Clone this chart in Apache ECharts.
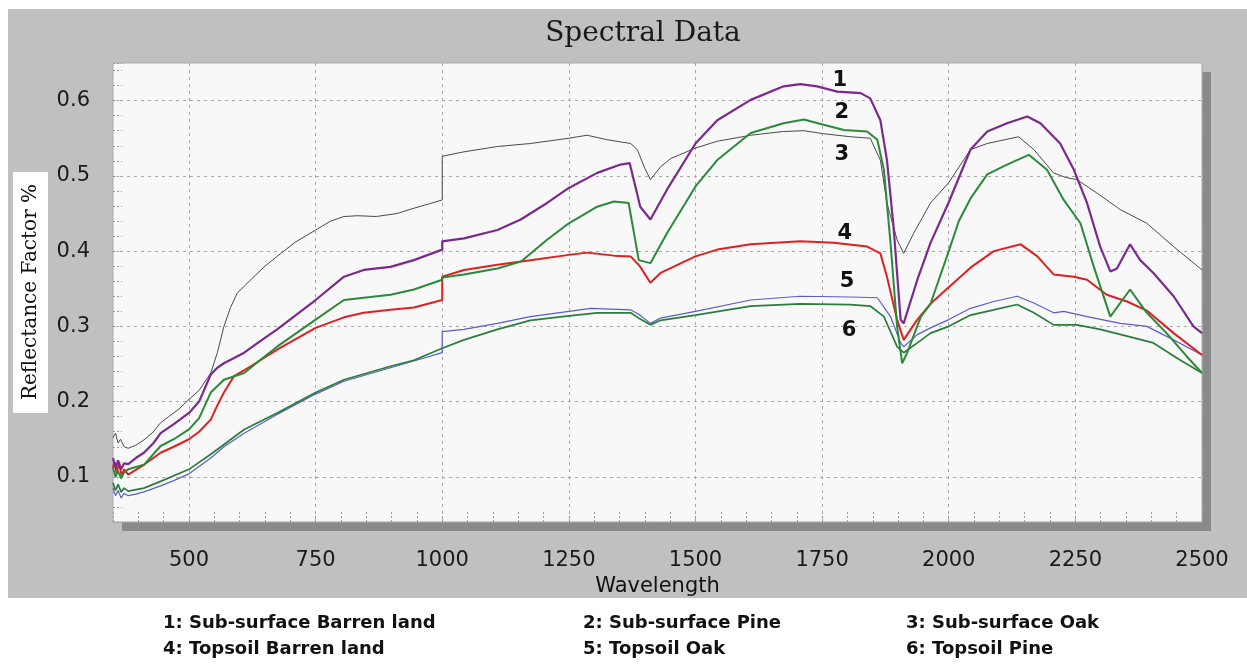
<!DOCTYPE html>
<html><head><meta charset="utf-8">
<script src="https://cdn.jsdelivr.net/npm/echarts@6/dist/echarts.min.js"></script>
<style>html,body{margin:0;padding:0;background:#fff;}#c{width:1247px;height:669px;}</style>
</head><body><div id="c"></div>
<script>
// ---- data (wavelength nm, reflectance) ----
const subBarren = [[350,0.125],[355,0.112],[360,0.122],[366,0.110],[372,0.118],[380,0.117],[395,0.125],[411,0.132],[430,0.145],[444,0.158],[470,0.170],[500,0.185],[520,0.200],[543,0.236],[556,0.245],[569,0.251],[609,0.265],[640,0.280],[674,0.296],[750,0.335],[806,0.366],[845,0.375],[898,0.379],[944,0.388],[1000,0.402],[1000,0.413],[1043,0.417],[1109,0.428],[1155,0.442],[1207,0.464],[1250,0.484],[1306,0.504],[1352,0.515],[1370,0.517],[1391,0.459],[1411,0.442],[1444,0.482],[1500,0.543],[1543,0.574],[1609,0.601],[1674,0.619],[1707,0.622],[1740,0.619],[1780,0.612],[1826,0.610],[1845,0.603],[1865,0.574],[1878,0.521],[1891,0.433],[1905,0.309],[1911,0.304],[1938,0.362],[1964,0.411],[2000,0.465],[2043,0.535],[2076,0.559],[2115,0.570],[2155,0.579],[2181,0.570],[2220,0.543],[2247,0.508],[2273,0.464],[2299,0.406],[2319,0.373],[2332,0.377],[2358,0.409],[2378,0.388],[2404,0.371],[2444,0.340],[2483,0.300],[2500,0.291]];
const subPine = [[350,0.112],[355,0.100],[360,0.108],[366,0.098],[372,0.106],[380,0.110],[411,0.116],[444,0.141],[470,0.150],[500,0.163],[520,0.178],[543,0.212],[569,0.229],[609,0.238],[640,0.255],[674,0.273],[750,0.309],[806,0.335],[845,0.338],[898,0.342],[944,0.349],[1000,0.362],[1000,0.365],[1043,0.369],[1109,0.377],[1155,0.386],[1207,0.415],[1250,0.437],[1306,0.459],[1339,0.466],[1368,0.464],[1388,0.388],[1411,0.384],[1444,0.424],[1500,0.486],[1543,0.521],[1609,0.557],[1674,0.570],[1714,0.575],[1753,0.568],[1793,0.561],[1839,0.559],[1859,0.548],[1872,0.508],[1885,0.411],[1898,0.300],[1908,0.251],[1918,0.265],[1945,0.313],[1964,0.330],[2000,0.400],[2020,0.440],[2043,0.470],[2076,0.502],[2115,0.515],[2158,0.528],[2194,0.508],[2227,0.468],[2260,0.437],[2286,0.380],[2319,0.313],[2358,0.349],[2391,0.318],[2430,0.291],[2470,0.260],[2500,0.238]];
const subOak = [[350,0.152],[355,0.158],[360,0.145],[365,0.150],[372,0.140],[380,0.138],[395,0.142],[411,0.149],[430,0.160],[444,0.172],[460,0.180],[480,0.190],[500,0.203],[520,0.215],[543,0.238],[556,0.265],[569,0.300],[582,0.325],[595,0.344],[622,0.362],[650,0.380],[674,0.393],[710,0.412],[750,0.428],[780,0.440],[806,0.446],[833,0.447],[870,0.446],[911,0.450],[944,0.457],[975,0.463],[1000,0.468],[1000,0.526],[1043,0.532],[1109,0.539],[1174,0.543],[1250,0.550],[1286,0.554],[1326,0.548],[1372,0.543],[1385,0.535],[1400,0.510],[1411,0.495],[1431,0.512],[1451,0.523],[1500,0.537],[1543,0.546],[1609,0.554],[1674,0.559],[1714,0.560],[1753,0.556],[1806,0.552],[1845,0.550],[1865,0.521],[1878,0.464],[1898,0.415],[1911,0.397],[1931,0.424],[1964,0.464],[2000,0.491],[2043,0.535],[2076,0.543],[2138,0.552],[2168,0.535],[2207,0.504],[2230,0.498],[2253,0.495],[2293,0.477],[2339,0.455],[2391,0.437],[2444,0.406],[2500,0.375]];
const topBarren = [[350,0.112],[353,0.120],[357,0.105],[362,0.118],[367,0.102],[372,0.110],[380,0.103],[411,0.116],[444,0.132],[470,0.140],[500,0.150],[520,0.160],[543,0.176],[556,0.195],[569,0.212],[589,0.234],[622,0.247],[674,0.269],[750,0.298],[806,0.312],[845,0.318],[898,0.322],[944,0.325],[1000,0.335],[1000,0.366],[1043,0.375],[1109,0.382],[1174,0.388],[1250,0.395],[1286,0.398],[1339,0.394],[1372,0.393],[1390,0.380],[1411,0.358],[1431,0.371],[1500,0.393],[1543,0.402],[1609,0.409],[1707,0.413],[1773,0.411],[1839,0.406],[1865,0.397],[1878,0.366],[1898,0.309],[1911,0.282],[1938,0.309],[1964,0.330],[2000,0.352],[2043,0.378],[2089,0.400],[2142,0.409],[2175,0.393],[2207,0.369],[2247,0.366],[2273,0.362],[2312,0.342],[2352,0.333],[2391,0.321],[2444,0.291],[2500,0.262]];
const topOak = [[350,0.085],[355,0.075],[360,0.082],[366,0.072],[372,0.078],[380,0.075],[395,0.077],[411,0.080],[444,0.088],[470,0.095],[500,0.104],[543,0.125],[569,0.140],[609,0.158],[674,0.183],[750,0.210],[806,0.227],[898,0.245],[944,0.254],[1000,0.265],[1000,0.293],[1043,0.296],[1109,0.304],[1174,0.313],[1250,0.320],[1293,0.324],[1372,0.322],[1390,0.315],[1411,0.304],[1431,0.311],[1500,0.320],[1609,0.335],[1707,0.340],[1806,0.339],[1859,0.338],[1885,0.313],[1905,0.278],[1911,0.273],[1938,0.289],[1964,0.298],[2000,0.309],[2043,0.324],[2089,0.333],[2135,0.340],[2168,0.331],[2207,0.318],[2227,0.320],[2273,0.313],[2339,0.304],[2391,0.300],[2444,0.282],[2500,0.262]];
const topPine = [[350,0.092],[355,0.082],[360,0.090],[366,0.080],[372,0.085],[380,0.081],[411,0.085],[444,0.094],[500,0.110],[543,0.130],[609,0.163],[674,0.185],[750,0.212],[806,0.229],[898,0.247],[944,0.255],[1000,0.271],[1043,0.282],[1109,0.296],[1174,0.308],[1250,0.314],[1306,0.318],[1372,0.318],[1390,0.310],[1411,0.302],[1431,0.308],[1500,0.315],[1609,0.327],[1707,0.330],[1806,0.329],[1845,0.327],[1872,0.313],[1898,0.273],[1911,0.265],[1938,0.278],[1964,0.291],[2000,0.300],[2043,0.315],[2089,0.322],[2135,0.329],[2168,0.318],[2207,0.302],[2253,0.302],[2299,0.296],[2352,0.287],[2404,0.278],[2455,0.256],[2500,0.238]];

const curveNumbers = ['1','2','3','4','5','6'];
const curveNumberPos = [[1785,0.627],[1789,0.5835],[1789,0.528],[1795,0.424],[1799,0.359],[1803,0.295]];
const legendLines = [
  ['1: Sub-surface Barren land','2: Sub-surface Pine','3: Sub-surface Oak'],
  ['4: Topsoil Barren land','5: Topsoil Oak','6: Topsoil Pine']
];
const titleText = 'Spectral Data';
const xName = 'Wavelength';
const yName = 'Reflectance Factor %';

// ---- chart ----
const chart = echarts.init(document.getElementById('c'), null, {renderer:'canvas'});
function mp(i){
  return {
    symbol:'circle', symbolSize:0, silent:true,
    itemStyle:{color:'rgba(0,0,0,0)'},
    label:{show:true, position:'inside', formatter:curveNumbers[i], fontFamily:'DejaVu Sans', fontWeight:'bold', fontSize:21, color:'#111'},
    data:[{coord:curveNumberPos[i]}]
  };
}
function line(name, data, color, width, idx){
  return {type:'line', name, data, showSymbol:false, symbol:'none', smooth:false,
    lineStyle:{color, width}, itemStyle:{color}, markPoint:mp(idx), animation:false, silent:true};
}
const gridColors = ['rgba(0,0,0,0)','rgba(0,0,0,0)','rgba(0,0,0,0)','#a8a8a8','rgba(0,0,0,0)'];
const legendX = [163, 583, 906];
const legendY = [623, 649];
const graphics = [
  {type:'rect', z:-10, shape:{x:8,y:9,width:1239,height:589}, style:{fill:'#c0c0c0'}},
  {type:'rect', z:-5, shape:{x:122,y:72,width:1089,height:459}, style:{fill:'#8a8a8a'}},
  {type:'rect', z:-5, shape:{x:13,y:172,width:35,height:241}, style:{fill:'#ffffff'}},
  {type:'text', x:31, y:292, rotation:Math.PI/2, style:{text:yName, font:'20px "DejaVu Serif"', textAlign:'center', textVerticalAlign:'middle', fill:'#111'}},
  {type:'text', x:643, y:34, style:{text:titleText, font:'28px "DejaVu Serif"', textAlign:'center', textVerticalAlign:'middle', fill:'#1a1a1a'}}
];
legendLines.forEach((row, r) => row.forEach((t, c) => {
  graphics.push({type:'text', x:legendX[c], y:legendY[r], style:{text:t, font:'bold 18px "DejaVu Sans"', textAlign:'left', textVerticalAlign:'middle', fill:'#111'}});
}));

chart.setOption({
  backgroundColor:'#ffffff',
  animation:false,
  grid:{left:113, top:63, width:1089, height:459, show:true, backgroundColor:'#f8f8f8', borderColor:'#a8a8a8', borderWidth:1, containLabel:false},
  xAxis:{type:'value', min:350, max:2500, interval:50,
    name:xName, nameLocation:'middle', nameGap:52, nameTextStyle:{fontFamily:'DejaVu Sans', fontSize:21, color:'#111'},
    axisLine:{show:false},
    axisTick:{show:true, inside:true, length:12, lineStyle:{color:'#9a9a9a', type:[2,2]}},
    axisLabel:{show:true, margin:28, fontFamily:'DejaVu Sans', fontSize:21, color:'#1a1a1a', showMinLabel:true, showMaxLabel:true,
      formatter:v => (Math.round(v) % 250 === 0 ? String(Math.round(v)) : '')},
    splitLine:{show:true, lineStyle:{color:gridColors, type:[3,4], width:1}}
  },
  yAxis:{type:'value', min:0.04, max:0.65, interval:0.02,
    axisLine:{show:false},
    axisTick:{show:true, inside:true, length:9, lineStyle:{color:'#9a9a9a', type:[2,2]}},
    axisLabel:{show:true, margin:23, fontFamily:'DejaVu Sans', fontSize:21, color:'#1a1a1a',
      formatter:v => { const k = Math.round(v*100); return k % 10 === 0 ? (k/100).toFixed(1) : ''; }},
    splitLine:{show:true, lineStyle:{color:gridColors, type:[3,4], width:1}}
  },
  graphic:graphics,
  series:[
    line('3: Sub-surface Oak', subOak, '#4a4a4a', 1, 2),
    line('5: Topsoil Oak', topOak, '#5a5ec4', 1.2, 4),
    line('6: Topsoil Pine', topPine, '#2a7d3c', 1.7, 5),
    line('4: Topsoil Barren land', topBarren, '#e02020', 2, 3),
    line('2: Sub-surface Pine', subPine, '#2b8a3a', 2, 1),
    line('1: Sub-surface Barren land', subBarren, '#7a2a8c', 2.2, 0)
  ]
});
</script></body></html>
